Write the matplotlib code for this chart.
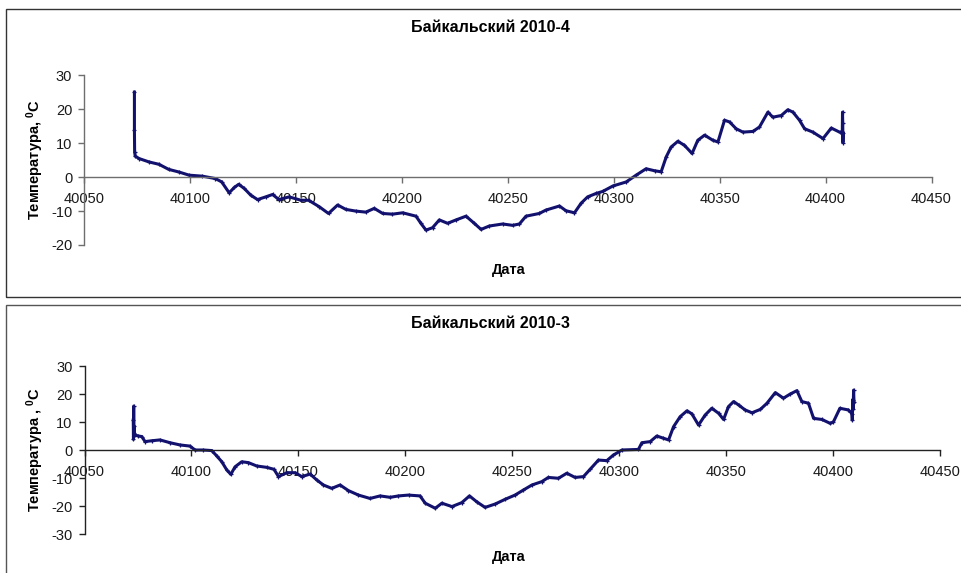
import matplotlib
matplotlib.use('Agg')
import matplotlib.pyplot as plt
from matplotlib.patches import Rectangle

#字体
plt.rcParams['font.family'] = ['Liberation Sans', 'DejaVu Sans']
plt.rcParams['mathtext.fontset'] = 'custom'
plt.rcParams['mathtext.rm'] = 'Liberation Sans'
plt.rcParams['axes.unicode_minus'] = False

#Байкальский 2010-4 数据（日期序号, 温度）
days_4 = [40073.8, 40073.8, 40073.9, 40074.2, 40076.0, 40080.7, 40085.4, 40090.0, 40095.0, 40099.6,
          40105.9, 40112.0, 40115.0, 40118.5, 40121.0, 40123.0, 40125.6, 40128.7, 40131.9, 40135.8,
          40139.0, 40142.0, 40146.8, 40152.4, 40156.0, 40161.0, 40165.4, 40169.7, 40173.6, 40178.3,
          40183.0, 40187.0, 40191.0, 40195.6, 40200.4, 40206.7, 40209.0, 40211.4, 40214.5, 40217.7,
          40221.6, 40225.6, 40230.3, 40234.2, 40237.4, 40241.3, 40247.6, 40252.3, 40255.5, 40258.6,
          40264.9, 40268.0, 40274.4, 40277.5, 40281.5, 40284.6, 40287.7, 40291.7, 40294.8, 40299.6,
          40305.9, 40310.6, 40315.3, 40319.3, 40322.4, 40324.8, 40327.1, 40330.3, 40333.4, 40337.0,
          40339.7, 40342.9, 40346.8, 40349.2, 40352.3, 40354.7, 40357.8, 40361.0, 40365.7, 40368.8,
          40372.8, 40375.1, 40379.1, 40382.2, 40384.6, 40387.7, 40390.1, 40394.0, 40398.8, 40402.7,
          40406.6, 40407.9, 40408.0, 40408.1, 40408.2, 40408.3]
temp_4 = [25.1, 13.8, 7.4, 6.2, 5.5, 4.5, 3.8, 2.3, 1.5, 0.6,
          0.3, -0.4, -1.4, -4.6, -3.0, -2.1, -3.3, -5.3, -6.6, -5.8,
          -5.1, -6.6, -5.8, -6.8, -6.8, -8.7, -10.7, -8.2, -9.5, -10.0,
          -10.3, -9.2, -10.7, -10.9, -10.5, -11.5, -13.6, -15.6, -14.9, -12.6,
          -13.6, -12.6, -11.5, -13.6, -15.4, -14.4, -13.8, -14.2, -13.8, -11.5,
          -10.7, -9.7, -8.5, -9.9, -10.5, -7.7, -5.8, -4.8, -4.2, -2.6,
          -1.4, 0.6, 2.5, 1.9, 1.6, 6.0, 8.9, 10.6, 9.4, 7.0,
          10.9, 12.4, 10.9, 10.4, 16.8, 16.3, 14.3, 13.3, 13.5, 14.8,
          19.2, 17.7, 18.2, 19.9, 19.2, 16.8, 14.3, 13.3, 11.4, 14.5,
          13.3, 13.0, 19.2, 16.0, 10.2, 13.0]

#Байкальский 2010-3 数据
days_3 = [40072.8, 40072.9, 40073.0, 40073.1, 40073.2, 40073.4, 40075.2, 40076.8, 40078.3, 40081.4,
          40085.3, 40090.0, 40094.7, 40099.3, 40101.7, 40105.6, 40109.5, 40111.8, 40114.2, 40116.5,
          40118.4, 40120.4, 40123.5, 40126.6, 40130.5, 40135.2, 40138.6, 40140.7, 40144.6, 40148.5,
          40151.6, 40155.5, 40158.6, 40161.7, 40165.6, 40169.5, 40173.4, 40178.1, 40183.5, 40188.2,
          40192.9, 40196.8, 40201.5, 40206.9, 40209.3, 40214.0, 40217.1, 40221.8, 40226.4, 40230.0,
          40233.4, 40237.3, 40242.0, 40246.7, 40251.3, 40255.2, 40259.2, 40263.8, 40266.9, 40271.6,
          40275.5, 40279.4, 40283.3, 40286.4, 40290.3, 40294.2, 40297.3, 40301.3, 40309.0, 40310.6,
          40314.5, 40317.6, 40320.7, 40323.1, 40325.4, 40328.5, 40331.7, 40334.0, 40337.1, 40340.2,
          40343.3, 40346.5, 40348.8, 40351.1, 40353.5, 40355.8, 40358.9, 40362.1, 40366.0, 40369.1,
          40373.0, 40376.8, 40380.0, 40383.1, 40385.4, 40388.5, 40390.9, 40394.8, 40398.7, 40400.2,
          40403.2, 40407.2, 40408.8, 40409.0, 40409.2, 40409.4, 40409.6, 40409.8]
temp_3 = [10.7, 3.8, 15.7, 6.0, 8.5, 5.4, 5.0, 4.8, 3.0, 3.3,
          3.6, 2.6, 1.8, 1.4, 0.0, 0.0, -0.2, -2.1, -4.2, -7.1,
          -8.7, -6.0, -4.2, -4.5, -5.7, -6.2, -6.9, -9.5, -8.1, -8.1,
          -9.5, -8.6, -10.7, -12.5, -13.7, -12.5, -14.5, -16.1, -17.3, -16.4,
          -16.9, -16.4, -16.1, -16.4, -19.0, -20.8, -19.0, -20.2, -18.8, -16.4,
          -18.5, -20.5, -19.3, -17.6, -16.1, -14.3, -12.5, -11.3, -9.8, -10.1,
          -8.3, -9.8, -9.5, -6.9, -3.6, -3.8, -1.8, 0.0, 0.2, 2.6,
          3.0, 5.0, 4.2, 3.6, 8.3, 11.9, 14.0, 12.9, 8.9, 12.5,
          14.9, 13.1, 10.9, 15.5, 17.3, 16.1, 14.3, 13.3, 14.5, 16.7,
          20.5, 18.5, 20.0, 21.2, 17.3, 16.7, 11.3, 10.9, 9.5, 10.1,
          14.9, 14.3, 13.0, 10.7, 18.0, 14.5, 21.4, 17.0]

x_ticks = [40050, 40100, 40150, 40200, 40250, 40300, 40350, 40400, 40450]
W, H = 961, 573

fig = plt.figure(figsize=(W / 100, H / 100), dpi=100)


def panel(rect, days, temp, ylim, yticks, axcol, title, ylab, title_y, xlab_y, ylab_y):
    ax = fig.add_axes(rect)
    ax.plot(days, temp, color='#12126e', lw=2.2, marker='+', ms=3.5, mew=0.9)
    ax.set_xlim(40050, 40450)
    ax.set_ylim(*ylim)
    ax.set_xticks(x_ticks)
    ax.set_yticks(yticks)
    #Excel风格：x轴在0处穿过
    ax.spines['bottom'].set_position(('data', 0))
    ax.spines['top'].set_visible(False)
    ax.spines['right'].set_visible(False)
    for s in ('left', 'bottom'):
        ax.spines[s].set_color(axcol)
        ax.spines[s].set_linewidth(1.0)
    ax.tick_params(axis='both', colors=axcol, labelcolor='#1a1a1a', labelsize=10.5,
                   length=4.5, width=1.0, direction='out')
    ax.tick_params(axis='x', pad=6)
    ax.tick_params(axis='y', pad=4)
    ax.patch.set_alpha(0)
    fig.text(490 / W, 1 - title_y / H, title, ha='center', va='center',
             fontsize=11.5, fontweight='bold')
    fig.text(509 / W, 1 - xlab_y / H, 'Дата', ha='center', va='center',
             fontsize=10.5, fontweight='bold')
    fig.text(35 / W, 1 - ylab_y / H, ylab, ha='center', va='center',
             rotation=90, fontsize=10.5, fontweight='bold')
    return ax


#外框
fig.add_artist(Rectangle((6 / W, 1 - 297 / H), 1.0, 288 / H, transform=fig.transFigure,
                         fill=False, ec='#333333', lw=1.0))
fig.add_artist(Rectangle((6 / W, -0.1), 1.0, 1 - 305 / H + 0.1, transform=fig.transFigure,
                         fill=False, ec='#555555', lw=1.0))

panel([84 / W, 1 - 245 / H, (931.5 - 84) / W, 169.5 / H], days_4, temp_4,
      (-20, 30), [-20, -10, 0, 10, 20, 30], '#6e6e6e',
      'Байкальский 2010-4', 'Температура, $\\mathregular{^0}$C', 28, 270, 160)

panel([84.5 / W, 1 - 534 / H, (940 - 84.5) / W, 168 / H], days_3, temp_3,
      (-30, 30), [-30, -20, -10, 0, 10, 20, 30], '#222222',
      'Байкальский 2010-3', 'Температура , $\\mathregular{^0}$C', 323, 557, 450)

fig.savefig('out.png', dpi=100)
